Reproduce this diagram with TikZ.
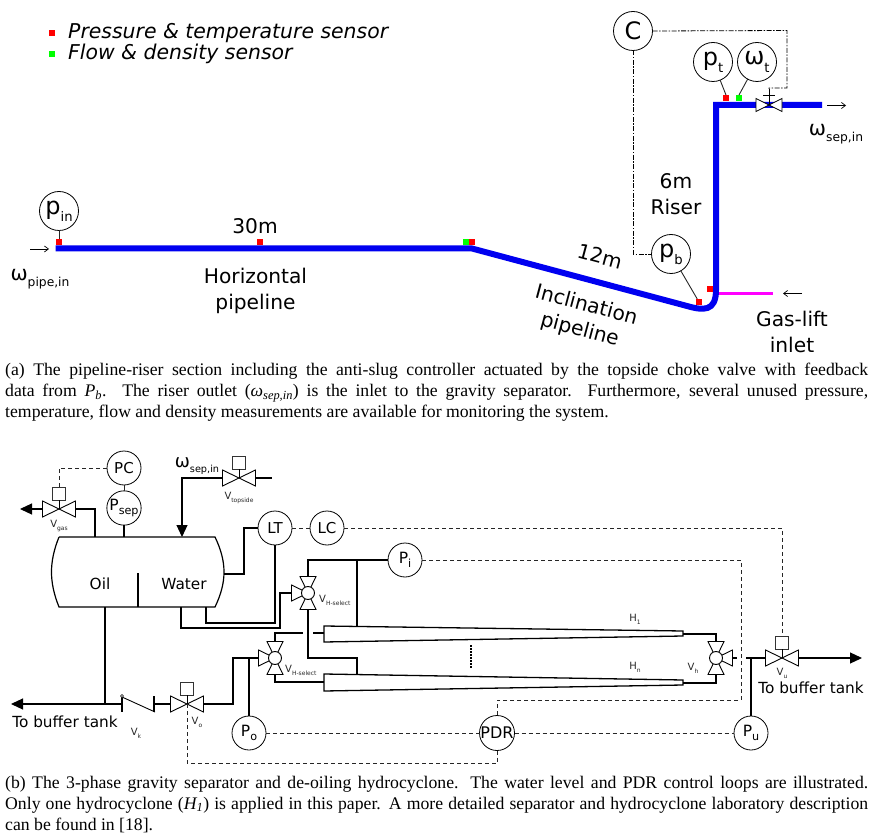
\documentclass[tikz,border=0pt]{standalone}
\usepackage{fontspec}
\usepackage{graphicx}
\setmainfont{Liberation Serif}
\newfontfamily\djv{DejaVu Sans}
\usetikzlibrary{arrows.meta,calc}
\definecolor{pipeblue}{RGB}{0,0,240}
\definecolor{liftmag}{RGB}{255,0,255}
\definecolor{sred}{RGB}{255,0,0}
\definecolor{sgreen}{RGB}{0,255,0}
\newcommand\sbs[2][.6]{\raisebox{-0.3em}{\scalebox{#1}{#2}}}
\newcommand\fs[1]{\fontsize{#1}{#1}\selectfont}
\newcommand\capfont{\fontsize{17.7}{20.9}\selectfont}
\newcommand\lblfont{\fontsize{20.2}{25.5}\selectfont}
\tikzset{
  pipe/.style={draw=pipeblue,line width=6pt},
  sens/.style={fill=#1,draw=none,minimum size=6pt,inner sep=0pt,outer sep=0pt},
  bigc/.style={circle,draw,line width=0.8pt,minimum size=39pt,inner sep=0pt,outer sep=0pt,font=\djv\fs{24}},
  smc/.style={circle,draw,line width=0.8pt,minimum size=34pt,inner sep=0pt,outer sep=0pt,font=\djv\fs{15}},
  lbl/.style={inner sep=0pt,align=center,font=\djv\lblfont},
  lblb/.style={inner sep=0pt,align=center,font=\djv\fs{15.3}},
  vl/.style={inner sep=0pt,font=\djv\fs{10}\color{black!85}},
  ln/.style={line width=1.15pt},
  sg/.style={line width=0.9pt,black!85},
  dsh/.style={line width=0.9pt,black!85,dash pattern=on 4pt off 3pt},
  dd/.style={line width=0.8pt,black,dash pattern=on 5pt off 1.5pt on 1.5pt off 1.5pt},
  thinarr/.style={-{Straight Barb[length=4pt,width=6pt]},line width=0.7pt},
  bigarr/.style={-{Triangle[length=12pt,width=11pt]},line width=1.15pt},
  captxt/.style={inner sep=0pt,anchor=north west,text width=863pt,align=justify,font=\capfont}
}
% straight valve: name, x, y
\newcommand\sval[3]{%
  \coordinate (#1) at (#2,#3);
  \coordinate (#1l) at ($(#1)+(-16.5,0)$);
  \coordinate (#1r) at ($(#1)+(16.5,0)$);
  \draw[line width=0.9pt] (#1) -- ++(-16.5,-8) -- ++(0,16) -- cycle;
  \draw[line width=0.9pt] (#1) -- ++(16.5,-8) -- ++(0,16) -- cycle;
}
% actuator box on valve
\newcommand\actb[1]{%
  \node[draw,line width=0.9pt,black!80,minimum size=13pt,inner sep=0pt,outer sep=0pt] (#1b) at ($(#1)+(0,-15.5)$) {};
  \draw[line width=0.9pt] (#1b.south) -- (#1);
}
% three-way valve: name, x, y, side (-1 left, 1 right)
\newcommand\tval[4]{%
  \coordinate (#1) at (#2,#3);
  \coordinate (#1t) at ($(#1)+(0,-16.5)$);
  \coordinate (#1u) at ($(#1)+(0,16.5)$);
  \coordinate (#1s) at ($(#1)+(#4*16.5,0)$);
  \draw[line width=0.9pt] (#1t) ++(-8,0) -- ++(16,0) -- (#1) -- cycle;
  \draw[line width=0.9pt] (#1u) ++(-8,0) -- ++(16,0) -- (#1) -- cycle;
  \draw[line width=0.9pt] (#1s) ++(0,-8) -- ++(0,16) -- (#1) -- cycle;
  \node[circle,draw,fill=white,line width=0.9pt,minimum size=13pt,inner sep=0pt,outer sep=0pt] (#1c) at (#1) {};
}
\begin{document}
\begin{tikzpicture}[x=1pt,y=-1pt]
\useasboundingbox (0,0) rectangle (870,834);
% ---------- legend
\node[sens=sred] (lr) at (52,33) {};
\node[sens=sgreen] (lg) at (52,54) {};
\node[inner sep=0pt,anchor=west,font=\djv\itshape\fs{20.4}] (lt1) at (68,33) {Pressure \& temperature sensor};
\node[inner sep=0pt,anchor=west,font=\djv\itshape\fs{20.4}] (lt2) at (68,54) {Flow \& density sensor};
% ---------- part a pipeline
\coordinate (p0) at (55.7,248.5);
\coordinate (p1) at (472,248.5);
\coordinate (p2) at (687,306);
\coordinate (p3) at (716,290);
\coordinate (p4) at (716,105);
\coordinate (p5) at (822,105);
\draw[draw=liftmag,line width=3.5pt] (716,293.7) -- (773,293.7) coordinate (liftend);
\draw[pipe,line join=miter] (p0) -- (p1) -- (p2) .. controls (703,310.5) and (716,312) .. (p3) -- (p4) -- (p5);
\node[sens=sred] (s1) at (59,242) {};
\node[sens=sred] (s2) at (260,242) {};
\node[sens=sgreen] (s3) at (466,242.5) {};
\node[sens=sred] (s4) at (472,242.5) {};
\node[sens=sred] (s5) at (699,302) {};
\node[sens=sred] (s6) at (710,289) {};
\node[sens=sred] (s7) at (726,98) {};
\node[sens=sgreen] (s8) at (739,98) {};
\node[bigc] (pin) at (59,211) {p\sbs[.55]{in}};
\node[bigc] (pb) at (671,254) {p\sbs[.55]{b}};
\node[bigc] (C) at (633,31) {C};
\node[bigc] (pt) at (713,62) {p\sbs[.55]{t}};
\node[bigc] (wt) at (757,62) {ω\sbs[.55]{t}};
\draw[sg] (pin) -- (s1);
\draw[sg] (pb) -- (s5);
\draw[sg] (pt) -- (s7.north);
\draw[sg] (wt) -- (s8.north);
% choke valve
\coordinate (ch) at (769,105);
\draw[fill=white,line width=0.8pt] (ch) -- ++(-13,-6.5) -- ++(0,13) -- cycle;
\draw[fill=white,line width=0.8pt] (ch) -- ++(13,-6.5) -- ++(0,13) -- cycle;
\draw[line width=0.8pt] (ch) -- ++(0,-16) coordinate (chtop);
\draw[line width=0.8pt] (763,95) -- (775,95);
\coordinate (cc) at (787,30.5);
\coordinate (cd) at (787,88);
\draw[dd] (C.east) -- (cc) -- (cd) -- (769,88) -- (chtop);
\coordinate (ce) at (633,254);
\draw[dd] (C.south) -- (ce) -- (pb.west);
% labels a
\node[lbl] (t30) at (255,226) {30m};
\node[lbl] (thor) at (255.5,291) {Horizontal\\pipeline};
\node[lbl,font=\djv\fs{20.5}] (twp) at (40,279) {ω\sbs{pipe,in}};
\node[lbl,rotate=-15] (t12) at (600,256) {12m};
\node[lbl,rotate=-15] (tinc) at (583,318) {Inclination\\pipeline};
\node[lbl] (tris) at (676,194) {6m\\Riser};
\node[lbl] (tgas) at (792,332) {Gas-lift\\inlet};
\node[lbl,font=\djv\fs{20.5}] (tws) at (836,134) {ω\sbs{sep,in}};
\coordinate (a1) at (30,249); \coordinate (a2) at (49,249);
\draw[thinarr] (a1) -- (a2);
\coordinate (a3) at (827,105.5); \coordinate (a4) at (846,105.5);
\draw[thinarr] (a3) -- (a4);
\coordinate (a5) at (802,293.5); \coordinate (a6) at (783,293.5);
\draw[thinarr] (a5) -- (a6);
% caption a
\node[captxt] (capa) at (5,363) {(a) The pipeline-riser section including the anti-slug controller actuated by the topside choke valve with feedback\linebreak data from \textit{P\textsubscript{b}}. The riser outlet (\textit{ω\textsubscript{sep,in}}) is the inlet to the gravity separator. Furthermore, several unused pressure,\linebreak temperature, flow and density measurements are available for monitoring the system.};
% ---------- part b separator
\draw[line width=1.2pt] (59,537) coordinate (tl) -- (215,537) coordinate (tr)
  .. controls (227,562) and (227,582) .. (215,607) coordinate (br)
  -- (59,607) coordinate (bl)
  .. controls (49,582) and (49,562) .. (tl);
\coordinate (dt) at (138,573); \coordinate (db) at (138,607);
\draw[ln] (dt) -- (db);
\node[lblb] (toil) at (100,584) {Oil};
\node[lblb] (twat) at (184,584) {Water};
\node[smc] (PC) at (124,468) {PC};
\node[smc,font=\djv\fs{15.5}] (Psep) at (124,508) {P\sbs[.72]{sep}};
\node[smc] (LT) at (275,528) {LT};
\node[smc] (LC) at (327,528) {LC};
\node[smc,font=\djv\fs{15.5}] (Pi) at (405,560) {P\sbs[.72]{i}};
\node[smc,font=\djv\fs{15.5}] (Po) at (249,733) {P\sbs[.72]{o}};
\node[smc,font=\djv\fs{16}] (PDR) at (497,733) {PDR};
\node[smc,font=\djv\fs{15.5}] (Pu) at (751,733) {P\sbs[.72]{u}};
\coordinate (tp) at (124,537);
\draw[sg] (PC.south) -- (Psep.north);
\draw[ln] (Psep.south) -- (tp);
% valves
\sval{vg}{59}{509}\actb{vg}
\sval{vt}{239}{478}\actb{vt}
\sval{vo}{187}{704}\actb{vo}
\sval{vu}{782}{658}\actb{vu}
\tval{vh1}{308}{593}{-1}
\tval{vh2}{275}{658}{-1}
\tval{vh}{716}{658}{1}
% gas line
\coordinate (gt) at (95,537);
\coordinate (gtip) at (20,509);
\draw[ln] (vgr) -| (gt);
\draw[bigarr] (vgl) -- (gtip);
\draw[dsh] (PC.west) -| (vgb.north);
% inlet
\coordinate (ia) at (182,537);
\coordinate (vte) at (272,478);
\draw[ln] (vtr) -- (vte);
\draw[bigarr] (vtl) -| (ia);
\node[lblb,font=\djv\fs{18}] (twi) at (197,466) {ω\sbs[.54]{sep,in}};
% LT lines
\coordinate (tm) at (224,574);
\coordinate (lt2) at (206,607);
\coordinate (lt3) at (206,623);
\coordinate (wo) at (181,607);
\coordinate (wo2) at (181,628);
\coordinate (wo3) at (280,628);
\draw[ln] (tm) -| (244,528) -- (LT.west);
\draw[ln] (lt2) -- (lt3) -| (LT.south);
\draw[ln] (wo) -- (wo2) -- (wo3) |- (vh1s);
\draw[dsh] (LT.east) -- (LC.west);
\draw[dsh] (LC.east) -| (vub.north);
% cyclones
\draw[line width=1.3pt,fill=white] (324,626) coordinate (c1a) -- (683,631) -- (683,636) -- (324,642) coordinate (c1b) -- cycle;
\draw[line width=1.3pt,fill=white] (324,674) coordinate (c2a) -- (683,680) -- (683,685) -- (324,691) coordinate (c2b) -- cycle;
\coordinate (c1t) at (357,626);
\coordinate (c2t) at (357,674);
\coordinate (c1e) at (683,634);
\coordinate (c2e) at (683,683);
\draw[ln] (vh1t) |- (Pi.west);
\draw[ln] (357,560) -- (c1t);
\draw[ln] (vh1u) |- (357,658) -- (c2t);
\draw[ln] (vh2t) |- (303,633);
\draw[ln] (313,633) -- (324,633);
\draw[ln] (vh2u) |- (324,682);
\draw[ln] (c1e) -| (vht);
\draw[ln] (c2e) -| (vhu);
\draw[line width=1.2pt,dash pattern=on 1.5pt off 1.5pt] (471,645) -- (471,669);
% right side
\draw[ln] (vhs) -- (737,658);
\draw[ln] (746,658) -- (vul);
\coordinate (rtip) at (862,658);
\draw[bigarr] (vur) -- (rtip);
\draw[ln] (Pu.north) -- (751,658);
% left bottom
\coordinate (tb) at (105,607);
\coordinate (ltip) at (11,704);
\coordinate (kl) at (122,704);
\coordinate (kr) at (154,704);
\draw[bigarr] (kl) -- (ltip);
\draw[ln] (tb) -- (105,704);
\draw[ln] (122,697) -- (122,712);
\draw[ln] (154,696) -- (154,712);
\draw[line width=0.9pt] (122,697) -- (155,712);
\node[circle,draw,line width=0.6pt,fill=white,minimum size=3pt,inner sep=0pt] (kc) at (122,696) {};
\draw[ln] (kr) -- (vol);
\draw[ln] (vor) -| (233,658) -- (vh2s);
\draw[ln] (Po.north) -- (249,658);
% signals
\draw[dsh] (Po.east) -- (PDR.west);
\draw[dsh] (PDR.east) -- (Pu.west);
\draw[dsh] (Pi.east) -| (741,700) -| (PDR.north);
\draw[dsh] (PDR.south) |- (187,763) -- (vo);
% small labels
\node[vl] (lvg) at (59,526) {V\sbs{gas}};
\node[vl] (lvt) at (239,498) {V\sbs{topside}};
\node[vl] (lvk) at (136,733) {V\sbs{k}};
\node[vl] (lvo) at (197,722) {V\sbs{o}};
\node[vl,anchor=west] (lv1) at (319,600) {V\sbs{H-select}};
\node[vl,anchor=west] (lv2) at (285,670) {V\sbs{H-select}};
\node[vl] (lh1) at (635,619) {H\sbs{1}};
\node[vl] (lhn) at (635,667) {H\sbs{n}};
\node[vl] (lvh) at (693,668) {V\sbs{h}};
\node[vl] (lvu) at (782,673) {V\sbs{u}};
\node[lblb] (tb1) at (65,722) {To buffer tank};
\node[lblb] (tb2) at (811,688) {To buffer tank};
% caption b
\node[captxt] (capb) at (5,776) {(b) The 3-phase gravity separator and de-oiling hydrocyclone. The water level and PDR control loops are illustrated.\linebreak Only one hydrocyclone (\textit{H\textsubscript{1}}) is applied in this paper. A more detailed separator and hydrocyclone laboratory description\linebreak can be found in [18].};
\end{tikzpicture}
\end{document}
